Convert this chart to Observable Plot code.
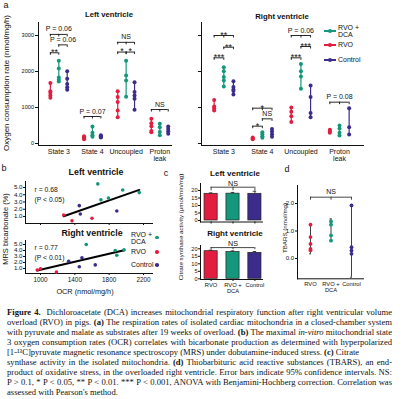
<!DOCTYPE html>
<html><head><meta charset="utf-8">
<script src="https://cdn.jsdelivr.net/npm/d3@7"></script>
<script src="https://cdn.jsdelivr.net/npm/@observablehq/plot@0.6"></script>
<style>
body{margin:0;background:#fff;}
#fig{position:relative;width:402px;height:399px;overflow:hidden;font-family:"Liberation Sans",Arial,sans-serif;color:#111;}
#fig svg{overflow:visible;}
</style></head><body><div id="fig"></div>
<script>
// ---------- DATA ----------
const groups = ["RVO", "RVO + DCA", "Control"];
const groupColors = ["#e21d40", "#14977a", "#3b2c8c"];
const conditions = ["State 3", "State 4", "Uncoupled", "Proton\nleak"];
const ocrTicks = [0, 1000, 2000, 3000];

// Panel a: oxygen consumption rate (nmol/mg/h) [condition][group][replicate]
const ocrLV = [
  [[1680, 1450, 1400, 1330, 1270], [2300, 2080, 1830, 1770, 1720], [2010, 1800, 1650, 1560, 1490]],
  [[200, 170, 140, 120], [470, 300, 230, 190], [230, 200, 180, 170]],
  [[1450, 1290, 1150, 920, 730], [2300, 1890, 1750, 1300], [1700, 1430, 1330, 1240, 940]],
  [[690, 560, 480, 350, 310], [550, 450, 320, 230], [470, 400, 340, 270]]
];
const ocrRV = [
  [[1210, 1030, 980, 920], [2120, 2010, 1850, 1750, 1580], [1730, 1570, 1500, 1460, 1360]],
  [[170, 140, 120], [310, 260, 200, 160], [400, 330, 260, 190]],
  [[1000, 880, 760, 600], [2210, 2010, 1860, 1520], [1610, 1290, 850, 730]],
  [[380, 340, 300], [500, 420, 300, 220], [980, 450, 250]]
];
// significance brackets: [condition, fromGroup, toGroup, level, label]
const sigLV = [
  [0, 0, 2, 3030, "P = 0.06"], [0, 1, 2, 2740, "P = 0.06"], [0, 0, 1, 2520, "**"],
  [1, 0, 2, 750, "P = 0.07"],
  [2, 0, 2, 2810, "NS"], [2, 0, 1, 2540, "*"], [2, 1, 2, 2540, "*"],
  [3, 0, 2, 944, "NS"]
];
const sigRV = [
  [0, 0, 2, 3000, "**"], [0, 1, 2, 2675, "**"], [0, 0, 1, 2380, "***"],
  [1, 0, 2, 981, "*"], [1, 1, 2, 685, "NS"], [1, 0, 1, 481, "*"],
  [2, 0, 2, 3000, "P = 0.06"], [2, 1, 2, 2694, "***"], [2, 0, 1, 2380, "***"],
  [3, 0, 2, 1148, "P = 0.08"]
];

// Panel b: OCR (nmol/mg/h) vs MRS bicarbonate (%)
const mrsLV_ocr = [1668, 1958, 2151, 1704, 1792, 1452, 1464, 1889, 1270, 1367, 1600];
const mrsLV_bic = [5.5, 4.65, 4.3, 3.3, 3.55, 2.5, 1.35, 1.75, 1.2, 0.4, 0.75];
const mrsLV_grp = [1, 1, 1, 1, 1, 2, 2, 2, 0, 0, 0];
const mrsRV_ocr = [1533, 1870, 1889, 1974, 1000, 1186, 962, 1328, 1483, 1452, 1638];
const mrsRV_bic = [5.0, 4.0, 3.2, 4.1, 0.95, 0.4, 0.75, 2.2, 2.8, 1.3, 1.6];
const mrsRV_grp = [1, 1, 1, 1, 0, 0, 0, 2, 2, 2, 2];
const statsLV = "r = 0.68\n(P < 0.05)";
const statsRV = "r = 0.77\n(P < 0.01)";
const ocrAxisTicks = [1000, 1400, 1800, 2200];
const mrsTicks = [1, 2, 3, 4, 5];

// Panel c: citrate synthase activity (umol/min/mg)
const csLV = [17.8, 17.9, 17.8], csLVhi = [18.4, 18.7, 19.5];
const csRV = [18.4, 17.8, 17.3], csRVhi = [19.1, 18.6, 18.2];
const csTicks = [0, 5, 10, 15, 20];

// Panel d: TBARS (nmol/mg)
const tbars = [[1.23, 0.78, 0.53, 0.35, 0.3], [1.35, 1.23, 0.84, 0.65], [1.93, 0.41, 0.29, 0.17]];
const tbarsLo = [0.17, 0.64, -0.68], tbarsHi = [1.2, 1.44, 1.93];
const tbarsTicks = [0, 1, 2];

// ---------- HELPERS ----------
const FONT = '"Liberation Sans", Arial, sans-serif';
const fig = document.getElementById("fig");
const offsets = [-0.25, 0, 0.25];
const colorScale = {domain: [0, 1, 2], range: groupColors};
function place(node, left, top) {
  node.style.position = "absolute"; node.style.left = left + "px"; node.style.top = top + "px";
  fig.appendChild(node);
}
function label(text, x, y, {size = 7, weight = "normal", anchor = "middle", rotate = 0, color = "#111"} = {}) {
  const d = document.createElement("div");
  d.textContent = text;
  const tx = anchor === "middle" ? "-50%" : anchor === "end" ? "-100%" : "0";
  d.style.cssText = `position:absolute;left:${x}px;top:${y}px;font-size:${size}px;font-weight:${weight};white-space:pre;line-height:1.05;color:${color};transform:translate(${tx},-50%) rotate(${rotate}deg);transform-origin:${anchor === "start" ? "0 50%" : "50% 50%"};`;
  fig.appendChild(d);
}
const baseStyle = (fs) => ({fontFamily: FONT, fontSize: fs + "px", background: "transparent", color: "#111"});

// ---------- PANEL a ----------
function ocrPanel(values, sig, {width, marginLeft, xRange, yLabels}) {
  const pts = [], bars = [];
  values.forEach((cond, i) => cond.forEach((vals, g) => {
    vals.forEach(v => pts.push({x: i + offsets[g], v, g}));
    bars.push({x: i + offsets[g], lo: d3.min(vals), hi: d3.max(vals), g});
  }));
  const br = sig.map(([c, a, b, y, text]) => ({x1: c + offsets[a], x2: c + offsets[b], mid: c + (offsets[a] + offsets[b]) / 2, y, text, star: text.startsWith("*")}));
  const legs = br.flatMap(d => (d.x2 - d.x1 > 0.3 ? [d.x1, d.mid, d.x2] : [d.x1, d.x2]).map(x => ({x, y: d.y})));
  return Plot.plot({
    width, height: 164, marginLeft, marginRight: 3, marginTop: 22, marginBottom: 19,
    style: baseStyle(7),
    x: {domain: [0, 3], range: xRange},
    y: {domain: [0, 3000], range: [143, 35]},
    color: colorScale,
    marks: [
      Plot.frame({anchor: "left", stroke: "#111"}),
      Plot.frame({anchor: "bottom", stroke: "#111"}),
      Plot.axisY({ticks: ocrTicks, tickSize: 3, tickPadding: 1.5, fontSize: 5.6, label: null, tickFormat: yLabels ? (d => String(d)) : (() => "")}),
      Plot.axisX({ticks: [0, 1, 2, 3], tickSize: 0, tickPadding: 3, label: null, fontSize: 7, lineHeight: 1.05, tickFormat: i => conditions[i]}),
      Plot.ruleX(bars, {x: "x", y1: "lo", y2: "hi", stroke: "g", strokeWidth: 1.2}),
      Plot.dot(pts, {x: "x", y: "v", r: 2, fill: "g"}),
      Plot.ruleY(br, {x1: "x1", x2: "x2", y: "y", stroke: "#111", strokeWidth: 0.9}),
      Plot.ruleX(legs, {x: "x", y1: "y", y2: d => d.y - 70, stroke: "#111", strokeWidth: 0.9}),
      Plot.text(br.filter(d => !d.star), {x: "mid", y: "y", text: "text", lineAnchor: "bottom", dy: -3, fontSize: 7}),
      Plot.text(br.filter(d => d.star), {x: "mid", y: "y", text: "text", lineAnchor: "bottom", dy: 2.4, fontSize: 9})
    ]
  });
}
place(ocrPanel(ocrLV, sigLV, {width: 174, marginLeft: 38, xRange: [58.3, 159.3], yLabels: true}), 0, 0);
place(ocrPanel(ocrRV, sigRV, {width: 190, marginLeft: 25, xRange: [47.3, 163], yLabels: false}), 176, 0);
label("a", 6, 6, {size: 9});
label("Left ventricle", 109, 15, {size: 7.7, weight: "bold"});
label("Right ventricle", 282, 16.5, {size: 7.7, weight: "bold"});
label("Oxygen consumption rate (nmol/mg/h)", 7, 83, {size: 8, rotate: -90});
// legend a
[[1, "RVO +\nDCA", 31], [0, "RVO", 45], [2, "Control", 60]].forEach(([g, t, y]) => {
  const line = document.createElement("div");
  line.style.cssText = `position:absolute;left:324px;top:${y - 0.6}px;width:12px;height:1.2px;background:${groupColors[g]};`;
  fig.appendChild(line);
  const dot = document.createElement("div");
  dot.style.cssText = `position:absolute;left:${330 - 2}px;top:${y - 2}px;width:4px;height:4px;border-radius:50%;background:${groupColors[g]};`;
  fig.appendChild(dot);
  label(t, 338, y, {size: 7, anchor: "start"});
});

// ---------- PANEL b ----------
function mrsPanel(xs, ys, gs, stats, {height, marginTop, marginBottom, yRange, xLabels, statsDy}) {
  const pts = xs.map((x, i) => ({x, y: ys[i], g: gs[i]}));
  return Plot.plot({
    width: 168, height, marginLeft: 25, marginRight: 16, marginTop, marginBottom,
    style: baseStyle(6.4),
    x: {domain: [1000, 2200], range: [40, 143]},
    y: {domain: [0, 5], range: yRange},
    color: colorScale,
    marks: [
      Plot.frame({anchor: "left", stroke: "#111"}),
      Plot.frame({anchor: "bottom", stroke: "#111"}),
      Plot.axisY({ticks: mrsTicks, tickSize: 2, tickPadding: 1, fontSize: 6.2, label: null}),
      Plot.axisX({ticks: ocrAxisTicks, tickSize: 2, tickPadding: 1.5, fontSize: 6.4, label: null, tickFormat: xLabels ? (d => String(d)) : (() => "")}),
      Plot.linearRegressionY(pts, {x: "x", y: "y", stroke: "#000", strokeWidth: 2, ci: 0}),
      Plot.dot(pts, {x: "x", y: "y", r: 1.8, fill: "g"}),
      Plot.text([stats], {frameAnchor: "top-left", textAnchor: "start", lineAnchor: "top", dx: 9, dy: statsDy, text: d => d, fontSize: 6.8, lineHeight: 1.45})
    ]
  });
}
place(mrsPanel(mrsLV_ocr, mrsLV_bic, mrsLV_grp, statsLV, {height: 62, marginTop: 16, marginBottom: 4, yRange: [58.25, 22], xLabels: false, statsDy: 3.5}), 0, 165);
place(mrsPanel(mrsRV_ocr, mrsRV_bic, mrsRV_grp, statsRV, {height: 60, marginTop: 12, marginBottom: 15, yRange: [46, 16], xLabels: true, statsDy: 2.5}), 0, 228);
label("b", 4, 169, {size: 9});
label("Left ventricle", 96, 173, {size: 8.8, weight: "bold"});
label("Right ventricle", 92, 234, {size: 8.8, weight: "bold"});
label("MRS bicarbonate (%)", 6, 229, {size: 7.5, rotate: -90});
label("OCR (nmol/mg/h)", 85, 292, {size: 7.3});
// legend b
[[1, "RVO +\nDCA", 237.5], [0, "RVO", 252], [2, "Control", 265]].forEach(([g, t, y]) => {
  const dot = document.createElement("div");
  dot.style.cssText = `position:absolute;left:${157 - 1.8}px;top:${y - 1.8}px;width:3.6px;height:3.6px;border-radius:50%;background:${groupColors[g]};`;
  fig.appendChild(dot);
  label(t, 131, y, {size: 7, anchor: "start"});
});

// ---------- PANEL c ----------
function csPanel(vals, hi, {height, marginTop, marginBottom, yRange, xLabels, bracketY, legY, textY}) {
  const bars = vals.map((v, i) => ({i, v, hi: hi[i]}));
  return Plot.plot({
    width: 110, height, marginLeft: 40, marginRight: 8, marginTop, marginBottom,
    style: baseStyle(5.8),
    x: {domain: [0, 2], range: [50.6, 94.4]},
    y: {domain: [0, 20], range: yRange},
    color: colorScale,
    marks: [
      Plot.rectY(bars, {x1: d => d.i - 0.3, x2: d => d.i + 0.3, y: "v", fill: "i", stroke: "#222", strokeWidth: 0.7}),
      Plot.ruleX(bars, {x: "i", y1: "v", y2: "hi", stroke: "#222", strokeWidth: 0.8}),
      Plot.ruleY(bars, {x1: d => d.i - 0.08, x2: d => d.i + 0.08, y: "hi", stroke: "#222", strokeWidth: 0.8}),
      Plot.frame({anchor: "left", stroke: "#111"}),
      Plot.frame({anchor: "bottom", stroke: "#111"}),
      Plot.axisY({ticks: csTicks, tickSize: 2, tickPadding: 1, fontSize: 5.6, label: null}),
      Plot.axisX({ticks: [0, 1, 2], tickSize: 2, tickPadding: 1.5, fontSize: 5.8, lineHeight: 1.05, label: null,
        tickFormat: xLabels ? (i => groups[i].replace(" + ", " +\n")) : (() => "")}),
      Plot.ruleY([bracketY], {x1: () => 0, x2: () => 2, y: d => d, stroke: "#333", strokeWidth: 0.9}),
      Plot.ruleX([0, 1, 2], {x: d => d, y1: () => bracketY, y2: () => legY, stroke: "#333", strokeWidth: 0.9}),
      Plot.text(["NS"], {x: () => 1, y: () => textY, text: d => d, lineAnchor: "bottom", fontSize: 7.2})
    ]
  });
}
place(csPanel(csLV, csLVhi, {height: 48, marginTop: 5, marginBottom: 4.5, yRange: [42, 12], xLabels: false, bracketY: 22.2, legY: 19.8, textY: 23.2}), 160, 178);
place(csPanel(csRV, csRVhi, {height: 62, marginTop: 7, marginBottom: 21, yRange: [40.3, 10.3], xLabels: true, bracketY: 20.8, legY: 19.4, textY: 22}), 160, 238);
label("c", 166, 174, {size: 9});
label("Left ventricle", 235, 174, {size: 8, weight: "bold"});
label("Right ventricle", 235, 234, {size: 8, weight: "bold"});
label("Citrate synthase activity (μmol/min/mg)", 181, 227, {size: 6.2, rotate: -90});

// ---------- PANEL d ----------
(function () {
  const pts = [], ci = [];
  tbars.forEach((vals, g) => {
    vals.forEach(v => pts.push({g, v}));
    ci.push({g, lo: tbarsLo[g], hi: tbarsHi[g]});
  });
  const chart = Plot.plot({
    width: 122, height: 122, marginLeft: 17, marginRight: 39, marginTop: 7, marginBottom: 21.7,
    style: baseStyle(5.8),
    x: {domain: [0, 2], range: [30, 71]},
    y: {domain: [0, 2], range: [80, 25]},
    color: colorScale,
    marks: [
      Plot.frame({anchor: "left", stroke: "#111"}),
      Plot.frame({anchor: "bottom", stroke: "#111"}),
      Plot.axisY({ticks: tbarsTicks, tickSize: 2, tickPadding: 1.5, fontSize: 6, label: null}),
      Plot.axisX({ticks: [0, 1, 2], tickSize: 0, tickPadding: 3, fontSize: 5.8, lineHeight: 1.05, label: null,
        tickFormat: i => groups[i].replace(" + ", " +\n")}),
      Plot.ruleX(ci, {x: "g", y1: "lo", y2: "hi", stroke: "#2a2a2a", strokeWidth: 0.9}),
      Plot.ruleY(ci, {x1: d => d.g - 0.05, x2: d => d.g + 0.05, y: "lo", stroke: "#2a2a2a", strokeWidth: 0.9}),
      Plot.ruleY(ci, {x1: d => d.g - 0.05, x2: d => d.g + 0.05, y: "hi", stroke: "#2a2a2a", strokeWidth: 0.9}),
      Plot.dot(pts, {x: "g", y: "v", r: 1.9, fill: "g"}),
      Plot.ruleY([2.23], {x1: () => 0, x2: () => 2, y: d => d, stroke: "#333", strokeWidth: 0.9}),
      Plot.ruleX([0, 1, 2], {x: d => d, y1: () => 2.23, y2: () => 2.12, stroke: "#333", strokeWidth: 0.9}),
      Plot.text(["NS"], {x: () => 1, y: () => 2.23, text: d => d, lineAnchor: "bottom", dy: -3, fontSize: 7})
    ]
  });
  place(chart, 280, 178);
})();
label("d", 287, 170, {size: 9});
label("TBARS (nmol/mg)", 285, 228, {size: 6.2, rotate: -90});

// ---------- CAPTION ----------
const captionLines = [
  [["Figure 4.", "b"], ["  Dichloroacetate (DCA) increases mitochondrial respiratory function after right ventricular volume"]],
  [["overload (RVO) in pigs. "], ["(a)", "b"], [" The respiration rates of isolated cardiac mitochondria in a closed-chamber system"]],
  [["with pyruvate and malate as substrates after 19 weeks of overload. "], ["(b)", "b"], [" The maximal "], ["in-vitro", "i"], [" mitochondrial state"]],
  [["3 oxygen consumption rates (OCR) correlates with bicarbonate production as determined with hyperpolarized"]],
  [["[1-¹³C]pyruvate magnetic resonance spectroscopy (MRS) under dobutamine-induced stress. "], ["(c)", "b"], [" Citrate"]],
  [["synthase activity in the isolated mitochondria. "], ["(d)", "b"], [" Thiobarbituric acid reactive substances (TBARS), an end-"]],
  [["product of oxidative stress, in the overloaded right ventricle. Error bars indicate 95% confidence intervals. NS:"]],
  [["P > 0.1, * P < 0.05, ** P < 0.01. *** P < 0.001, ANOVA with Benjamini-Hochberg correction. Correlation was"]],
  [["assessed with Pearson's method."]]
];
const justified = [true, true, true, true, false, true, true, true, false];
const CAP_W = 385;
const cap = d3.create("svg").attr("width", 402).attr("height", 100)
  .style("font-family", '"Liberation Serif", "DejaVu Serif", serif').style("fill", "#111");
place(cap.node(), 0, 300);
const texts = captionLines.map((segs, i) => {
  const t = cap.append("text").attr("x", 7).attr("y", 14.6 + 10.1 * i).attr("xml:space", "preserve");
  segs.forEach(([s, f]) => {
    const ts = t.append("tspan").text(s);
    if (f === "b") ts.attr("font-weight", "bold");
    if (f === "i") ts.attr("font-style", "italic");
  });
  return t;
});
// pick a font size so the widest justified line fits, then justify with word spacing
let fs = 9.4;
cap.style("font-size", fs + "px");
const widest = d3.max(texts.filter((t, i) => justified[i]), t => t.node().getComputedTextLength());
fs = Math.min(9.4, fs * (CAP_W - 1) / widest);
cap.style("font-size", fs + "px");
texts.forEach((t, i) => {
  if (!justified[i]) return;
  const w = t.node().getComputedTextLength();
  const spaces = (t.text().match(/ /g) || []).length;
  if (spaces > 0 && w < CAP_W) t.style("word-spacing", ((CAP_W - w) / spaces) + "px");
});
</script></body></html>
